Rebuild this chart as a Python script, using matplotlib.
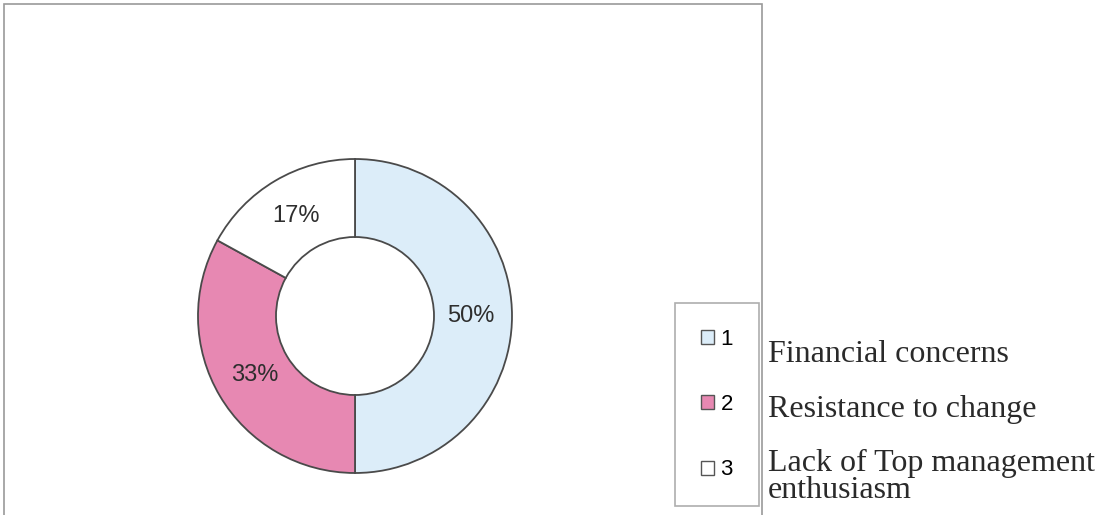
import matplotlib.pyplot as plt
from matplotlib.patches import Rectangle

shares = [50, 33, 17]
keys = ['1', '2', '3']
reasons = ['Financial concerns', 'Resistance to change', 'Lack of Top management', 'enthusiasm']
reason_y = [355, 410, 463, 491]
colors = ['#dcedf9', '#e788b2', '#ffffff']

W, H = 1107, 515


def main():
    fig = plt.figure(figsize=(W / 100, H / 100), dpi=100)
    ax = fig.add_axes([0, 0, 1, 1])

    # outer chart frame (bottom runs off the page)
    ax.add_patch(Rectangle((4, -10), 758, H - 4 + 10, fill=False, edgecolor='#9a9a9a', linewidth=1.2))

    wedges, texts = ax.pie(
        shares, colors=colors, startangle=90, counterclock=False,
        center=(355, H - 316), radius=157, frame=True,
        labels=[f'{s}%' for s in shares], labeldistance=0.74,
        wedgeprops=dict(width=78, edgecolor='#4a4a4a', linewidth=1.3),
        textprops=dict(fontsize=17, color='#2e2e2e', family='Liberation Sans'),
    )
    ax.set_xlim(0, W)
    ax.set_ylim(0, H)
    ax.set_aspect('equal')
    ax.axis('off')
    for t in texts:
        t.set_ha('center')
        t.set_va('center')

    leg = ax.legend(
        wedges, keys, loc='upper left', bbox_to_anchor=(675, H - 303),
        bbox_transform=ax.transData, frameon=True, fancybox=False,
        prop=dict(family='Liberation Sans', size=16),
        handlelength=0.6, handleheight=0.6, handletextpad=0.3,
        labelspacing=2.0, borderpad=1.15, borderaxespad=0,
    )
    leg.get_frame().set_edgecolor('#9a9a9a')
    leg.get_frame().set_linewidth(1.2)
    for h in leg.legend_handles:
        h.set_edgecolor('#555555')
        h.set_linewidth(1.0)

    for y, r in zip(reason_y, reasons):
        ax.text(768, H - y, r, ha='left', va='center', fontsize=23,
                family='Liberation Serif', color='#2a2a2a')

    fig.savefig('out.png', dpi=100)


if __name__ == '__main__':
    main()
